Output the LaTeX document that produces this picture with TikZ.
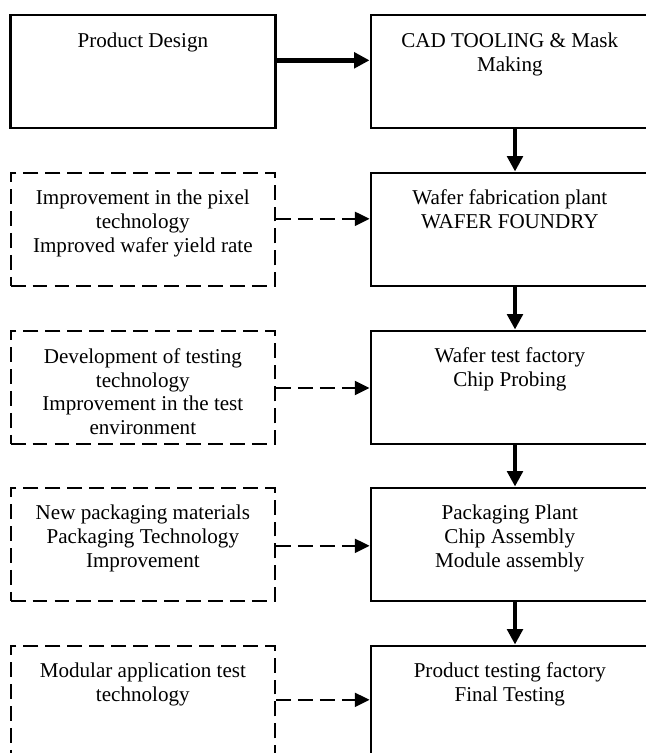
\documentclass[tikz,border=0pt]{standalone}
\usepackage{fontspec}
\setmainfont{Liberation Serif}
\usepackage{tikz}
\usetikzlibrary{arrows.meta,positioning}
\tikzset{
  stage/.style={draw,line width=2.1pt,minimum width=7.2cm,minimum height=2.825cm},
  start/.style={draw,line width=2.1pt,minimum width=6.61cm,minimum height=2.825cm},
  idea/.style={draw,line width=1.4pt,dash pattern=on 10.6pt off 5pt,minimum width=6.61cm,minimum height=2.825cm},
  txt/.style={anchor=north,align=center,inner sep=0pt,font=\fontsize{15}{17}\selectfont},
  arr/.style={-{Triangle[length=11pt,width=11pt]},line width=3.5pt},
  darr/.style={-{Triangle[length=10.5pt,width=10pt]},line width=1.4pt,dash pattern=on 10.6pt off 5pt},
}
\begin{document}
\begin{tikzpicture}
\clip (0,0) rectangle (16.15,-18.825);
% first row
\node[start] (l1) at (3.571,-1.7875) {};
\node[stage] (s1) at (12.875,-1.7875) {};
\node[txt] (l1t) at ([yshift=-0.48cm]l1.north) {Product Design};
\node[txt] (s1t) at ([xshift=-0.13cm,yshift=-0.48cm]s1.north) {CAD TOOLING \& Mask\\Making};
\draw[arr] ([yshift=-1.17cm]l1.north east) -- ([yshift=-1.17cm]l1.north east -| s1.west);
% improvement boxes and plants
\foreach \i/\y/\a/\l/\s in {2/-5.7375/1.17/{Improvement in the pixel\\technology\\Improved wafer yield rate}/{Wafer fabrication plant\\WAFER FOUNDRY},3/-9.6875/1.45/{Development of testing\\technology\\Improvement in the test\\environment}/{Wafer test factory\\Chip Probing},4/-13.6125/1.47/{New packaging materials\\Packaging Technology\\Improvement}/{Packaging Plant\\Chip Assembly\\Module assembly},5/-17.5625/1.37/{Modular application test\\technology}/{Product testing factory\\Final Testing}} {\node[idea] (l\i) at (3.571,\y) {}; \node[stage] (s\i) at (12.875,\y) {}; \node[txt] (l\i t) at ([yshift=-0.45cm]l\i.north) {\l}; \node[txt] (s\i t) at ([xshift=-0.13cm,yshift=-0.45cm]s\i.north) {\s}; \draw[darr] ([yshift=-\a cm]l\i.north east) -- ([yshift=-\a cm]l\i.north east -| s\i.west);}
\foreach \i/\j in {1/2,2/3,3/4,4/5} {\draw[arr] (s\i) -- (s\j);}
\end{tikzpicture}
\end{document}
